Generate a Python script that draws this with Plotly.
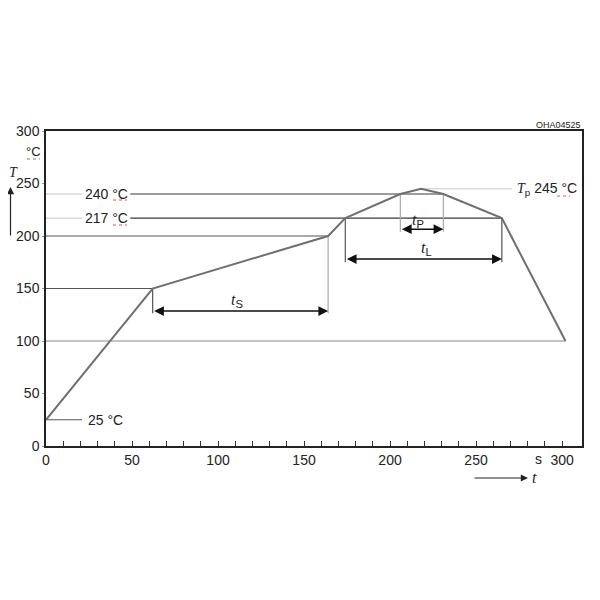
import plotly.graph_objects as go

# Reflow profile (time in s, temperature in °C)
time_s = [0, 62, 164, 174, 206, 218, 231, 265, 302]
temp_c = [25, 150, 200, 217, 240, 245, 240, 217, 100]

x_ticks = list(range(0, 301, 10))
x_tick_labels = [str(v) if v % 50 == 0 else "" for v in x_ticks]
y_ticks = [0, 50, 100, 150, 200, 250, 300]

t_room, t_pre1, t_pre2, t_liq, t_240, t_peak = 25, 150, 200, 217, 240, 245

FONT = "Liberation Sans, Arial, sans-serif"
SERIF = "Liberation Serif, Times New Roman, serif"
DARK = "#3a3a3a"
LIGHT = "#c8c8c8"

def it(ch):
    return f'<span style="font-family:{SERIF}"><i>{ch}</i></span>'

# plot-area geometry (page pixels) used to place texts outside the axes
PL, PR, PT, PB = 46, 582, 131, 446
def px(p):
    return (p - PL) / (PR - PL)
def py(p):
    return (PB - p) / (PB - PT)

fig = go.Figure()
fig.add_trace(go.Scatter(x=time_s, y=temp_c, mode="lines",
                         line=dict(color="#6f6f6f", width=2),
                         hoverinfo="skip", showlegend=False))

shapes = []
def hline(x0, x1, y, color=DARK, width=1.2):
    shapes.append(dict(type="line", xref="x", yref="y", x0=x0, x1=x1, y0=y, y1=y,
                       line=dict(color=color, width=width), layer="below"))
def vline(x, y0, y1, color=DARK, width=1.2):
    shapes.append(dict(type="line", xref="x", yref="y", x0=x, x1=x, y0=y0, y1=y1,
                       line=dict(color=color, width=width), layer="below"))
def squiggle(x0, x1, y):
    shapes.append(dict(type="line", xref="paper", yref="paper", x0=px(x0), x1=px(x1),
                       y0=py(y), y1=py(y), line=dict(color="#e05050", width=1, dash="dot")))

# horizontal reference levels
hline(0, time_s[1], t_pre1, "#555555")
hline(0, time_s[2], t_pre2, "#555555")
hline(0, time_s[-1], temp_c[-1], "#8a8a8a")
hline(0, 21, t_room, "#555555")
hline(0, 21, t_240, LIGHT, 1)
hline(0, 21, t_liq, LIGHT, 1)
hline(49, time_s[6], t_240, DARK)
hline(49, time_s[7], t_liq, DARK)
hline(time_s[5], 271, t_peak, LIGHT, 1)

# duration markers
ts_y, tp_y, tl_y = 128.5, 206.5, 178
vline(time_s[1], t_pre1, ts_y - 2, "#555555")
vline(time_s[2], t_pre2, ts_y - 2, "#aaaaaa")
vline(time_s[4], t_240, tp_y - 2.5, "#aaaaaa")
vline(time_s[6], t_240, tp_y - 2.5, "#aaaaaa")
vline(time_s[3], t_liq, tl_y - 3, "#555555")
vline(time_s[7], t_liq, tl_y - 3, "#555555")

# spell-check style red underlines seen under the unit texts
squiggle(27, 40, 159)
squiggle(113, 127, 200)
squiggle(113, 127, 225)
squiggle(557, 570, 196)

ann = []
def arrow2(x0, x1, y):
    ann.append(dict(x=x1, y=y, ax=x0, ay=y, xref="x", yref="y", axref="x", ayref="y",
                    text="", showarrow=True, arrowhead=2, startarrowhead=2,
                    arrowside="end+start", arrowsize=1.3, startarrowsize=1.3,
                    arrowwidth=1.5, arrowcolor="#111111", standoff=0, startstandoff=0))
arrow2(time_s[1], time_s[2], ts_y)
arrow2(time_s[4], time_s[6], tp_y)
arrow2(time_s[3], time_s[7], tl_y)

def text(x, y, s, size=14, xanchor="center", xref="x", yref="y", yanchor="middle"):
    ann.append(dict(x=x, y=y, xref=xref, yref=yref, text=s, showarrow=False,
                    xanchor=xanchor, yanchor=yanchor, borderpad=0,
                    font=dict(family=FONT, size=size, color="#222222")))

text(111, 139, it("t") + "<sub>S</sub>", 16)
text(216, 215, it("t") + "<sub>P</sub>", 16)
text(221, 188, it("t") + "<sub>L</sub>", 16)
text(35, t_240, "240 °C")
text(35, t_liq, "217 °C")
text(24, t_room, "25 °C", xanchor="left")
text(273.5, t_peak, it("T") + "<sub>p</sub> 245 °C", xanchor="left")

# texts outside the axes (paper coordinates)
text(px(33), py(151), "°C", 13, xref="paper", yref="paper")
text(px(8), py(172), it("T"), 14, xanchor="left", xref="paper", yref="paper")
text(px(538), py(459), "s", 14, xref="paper", yref="paper")
text(px(531), py(477), it("t"), 16, xanchor="left", xref="paper", yref="paper")
text(1.0, 1.0, "OHA04525", 9, xanchor="right", xref="paper", yref="paper", yanchor="bottom")

# axis direction arrows
ann.append(dict(x=px(10.5), y=py(187), ax=0, ay=50, xref="paper", yref="paper",
                axref="pixel", ayref="pixel", text="", showarrow=True, arrowhead=2,
                arrowsize=1.2, arrowwidth=1.2, arrowcolor="#222222", standoff=0))
ann.append(dict(x=px(528), y=py(478), ax=-55, ay=0, xref="paper", yref="paper",
                axref="pixel", ayref="pixel", text="", showarrow=True, arrowhead=2,
                arrowsize=1.2, arrowwidth=1.2, arrowcolor="#222222", standoff=0))

# the page body has an 8px margin; shrink the figure so the plot area lands where the reference has it
OFF = 8
fig.update_layout(
    width=600 - OFF, height=600 - OFF,
    margin=dict(l=PL - OFF, r=600 - PR, t=PT - OFF, b=600 - PB, autoexpand=False),
    paper_bgcolor="white", plot_bgcolor="white",
    font=dict(family=FONT, size=14, color="#222222"),
    shapes=shapes, annotations=ann, showlegend=False,
    xaxis=dict(range=[0, 311.6], tickvals=x_ticks, ticktext=x_tick_labels,
               ticks="inside", ticklen=5, tickcolor="#333333", tickwidth=1,
               showline=True, linecolor="#222222", linewidth=1.5, mirror=True,
               showgrid=False, zeroline=False, tickfont=dict(size=14), automargin=False),
    yaxis=dict(range=[0, 300], tickvals=y_ticks, ticks="outside", ticklen=2,
               tickcolor="#999999", showline=True, linecolor="#222222", linewidth=1.5,
               mirror=True, showgrid=False, zeroline=False, tickfont=dict(size=14),
               automargin=False),
)

fig.write_html("out.html")
